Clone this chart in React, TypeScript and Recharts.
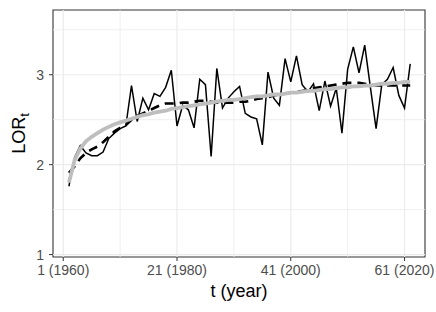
import React from 'react';
import { LineChart, Line, XAxis, YAxis, ReferenceLine, ReferenceArea } from 'recharts';

// t = 2..62 (1961..2021)
const tValues = [
  2, 3, 4, 5, 6, 7, 8, 9, 10, 11, 12, 13, 14, 15, 16, 17, 18, 19, 20, 21,
  22, 23, 24, 25, 26, 27, 28, 29, 30, 31, 32, 33, 34, 35, 36, 37, 38, 39, 40, 41,
  42, 43, 44, 45, 46, 47, 48, 49, 50, 51, 52, 53, 54, 55, 56, 57, 58, 59, 60, 61, 62
];

const lorObserved = [
  1.76, 2.08, 2.21, 2.13, 2.10, 2.10, 2.14, 2.29, 2.35, 2.40, 2.43, 2.88, 2.48, 2.74, 2.61, 2.79, 2.76, 2.86, 3.05, 2.43,
  2.66, 2.61, 2.41, 2.95, 2.89, 2.09, 3.07, 2.63, 2.74, 2.81, 2.87, 2.57, 2.53, 2.51, 2.22, 3.03, 2.74, 2.66, 3.18, 2.92,
  3.21, 2.89, 2.81, 2.90, 2.60, 2.93, 2.65, 2.85, 2.35, 3.06, 3.31, 3.02, 3.33, 2.86, 2.40, 2.89, 2.95, 3.08, 2.77, 2.63, 3.12
];

const lorFitted = [
  1.91, 1.98, 2.07, 2.13, 2.17, 2.20, 2.25, 2.31, 2.37, 2.41, 2.44, 2.50, 2.54, 2.57, 2.60, 2.63, 2.66, 2.68, 2.68, 2.68,
  2.69, 2.69, 2.70, 2.71, 2.71, 2.70, 2.69, 2.69, 2.69, 2.69, 2.70, 2.70, 2.71, 2.73, 2.74, 2.75, 2.77, 2.78, 2.79, 2.80,
  2.81, 2.82, 2.83, 2.85, 2.86, 2.87, 2.88, 2.89, 2.90, 2.91, 2.91, 2.91, 2.90, 2.89, 2.88, 2.88, 2.88, 2.88, 2.88, 2.88, 2.88
];

const lorSmooth = [
  1.80, 2.05, 2.18, 2.26, 2.31, 2.35, 2.39, 2.42, 2.45, 2.47, 2.49, 2.51, 2.53, 2.55, 2.56, 2.58, 2.59, 2.60, 2.62, 2.63,
  2.64, 2.65, 2.66, 2.67, 2.68, 2.69, 2.70, 2.71, 2.72, 2.72, 2.73, 2.74, 2.75, 2.76, 2.76, 2.77, 2.78, 2.78, 2.79, 2.80,
  2.80, 2.81, 2.82, 2.82, 2.83, 2.84, 2.84, 2.85, 2.86, 2.86, 2.87, 2.87, 2.88, 2.88, 2.89, 2.90, 2.90, 2.91, 2.91, 2.92, 2.92
];

const xTicks = [1, 21, 41, 61];
const xTickLabels = ['1 (1960)', '21 (1980)', '41 (2000)', '61 (2020)'];
const xMinor = [11, 31, 51];
const yTicks = [1, 2, 3];
const yMinor = [1.5, 2.5, 3.5];

const xDomain: [number, number] = [-0.8, 64.6];
const yDomain: [number, number] = [0.973, 3.72];

const data = tValues.map((t, i) => ({
  t,
  lor: lorObserved[i],
  fit: lorFitted[i],
  smooth: lorSmooth[i]
}));

const FONT = '"Liberation Sans", Arial, sans-serif';
const GRID = '#EBEBEB';

const YTitle = ({ viewBox }: any) => {
  const x = viewBox.x + 25;
  const y = viewBox.y + viewBox.height / 2;
  return (
    <text
      x={x}
      y={y}
      transform={`rotate(-90, ${x}, ${y})`}
      textAnchor="middle"
      fontFamily={FONT}
      fontSize={18}
      fill="#000"
    >
      LOR<tspan dy={4} fontSize={13}>t</tspan>
    </text>
  );
};

export default function App() {
  return (
    <div style={{ position: 'absolute', left: 0, top: 0, background: '#fff' }}>
      <LineChart
        width={436}
        height={312}
        data={data}
        margin={{ top: 10, right: 11, bottom: 0, left: 0 }}
      >
        {xMinor.map(v => (
          <ReferenceLine key={'xm' + v} x={v} stroke={GRID} strokeWidth={0.8} />
        ))}
        {yMinor.map(v => (
          <ReferenceLine key={'ym' + v} y={v} stroke={GRID} strokeWidth={0.8} />
        ))}
        {xTicks.map(v => (
          <ReferenceLine key={'xM' + v} x={v} stroke={GRID} strokeWidth={1.2} />
        ))}
        {yTicks.map(v => (
          <ReferenceLine key={'yM' + v} y={v} stroke={GRID} strokeWidth={1.2} />
        ))}
        <XAxis
          dataKey="t"
          type="number"
          domain={xDomain}
          ticks={xTicks}
          allowDataOverflow
          tickFormatter={(v: number) => xTickLabels[xTicks.indexOf(v)]}
          axisLine={false}
          tickLine={{ stroke: '#333333' }}
          tickSize={4}
          tickMargin={4}
          height={55}
          tick={{ fill: '#4D4D4D', fontSize: 14, fontFamily: FONT }}
          interval={0}
          label={{
            value: 't (year)',
            position: 'insideBottom',
            offset: 15,
            fill: '#000',
            fontSize: 18,
            fontFamily: FONT
          }}
        />
        <YAxis
          type="number"
          domain={yDomain}
          ticks={yTicks}
          allowDataOverflow
          axisLine={false}
          tickLine={{ stroke: '#333333' }}
          tickSize={4}
          tickMargin={5}
          width={53}
          tick={{ fill: '#4D4D4D', fontSize: 14, fontFamily: FONT }}
          interval={0}
          label={<YTitle />}
        />
        <Line
          dataKey="lor"
          stroke="#000"
          strokeWidth={1.5}
          dot={false}
          isAnimationActive={false}
        />
        <Line
          dataKey="fit"
          stroke="#000"
          strokeWidth={2.6}
          strokeDasharray="9 6"
          dot={false}
          isAnimationActive={false}
        />
        <Line
          dataKey="smooth"
          stroke="#BEBEBE"
          strokeWidth={3.8}
          dot={false}
          isAnimationActive={false}
        />
        <ReferenceArea
          x1={xDomain[0]}
          x2={xDomain[1]}
          y1={yDomain[0]}
          y2={yDomain[1]}
          fill="none"
          stroke="#333333"
          strokeWidth={1.1}
        />
      </LineChart>
    </div>
  );
}
